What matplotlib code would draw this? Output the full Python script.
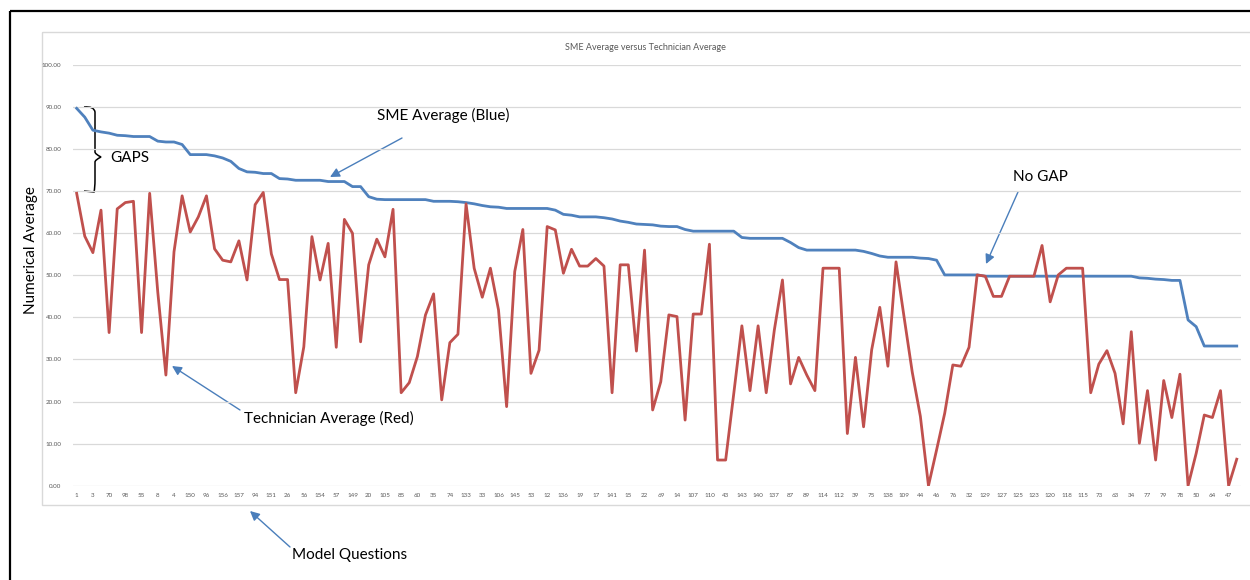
import matplotlib
matplotlib.use("Agg")
import matplotlib.pyplot as plt
from matplotlib.patches import Rectangle
from matplotlib.path import Path
from matplotlib.patches import PathPatch

plt.rcParams['font.family'] = ['Lato', 'DejaVu Sans']

# question ids shown on the category axis (every other question)
question_labels = ['1', '3', '70', '98', '55', '8', '4', '150', '96', '156', '157', '94',
                   '151', '26', '56', '154', '57', '149', '20', '105', '85', '60', '35', '74',
                   '133', '33', '106', '145', '53', '12', '136', '19', '17', '141', '15', '22',
                   '69', '14', '107', '110', '43', '143', '140', '137', '87', '89', '114', '112',
                   '39', '75', '138', '109', '44', '46', '76', '32', '129', '127', '125', '123',
                   '120', '118', '115', '73', '63', '34', '77', '79', '78', '50', '64', '47']

# SME average per question, sorted high to low
sme_avg = [89.7, 87.6, 84.5, 84.1, 83.8, 83.3, 83.2, 83.0, 83.0, 83.0,
           81.9, 81.7, 81.7, 81.1, 78.7, 78.7, 78.7, 78.4, 77.9, 77.1,
           75.4, 74.6, 74.5, 74.2, 74.2, 73.0, 72.9, 72.6, 72.6, 72.6,
           72.6, 72.3, 72.3, 72.3, 71.1, 71.1, 68.7, 68.1, 68.0, 68.0,
           68.0, 68.0, 68.0, 68.0, 67.6, 67.6, 67.6, 67.5, 67.3, 67.0,
           66.6, 66.3, 66.2, 65.9, 65.9, 65.9, 65.9, 65.9, 65.9, 65.5,
           64.5, 64.3, 63.9, 63.9, 63.9, 63.7, 63.4, 62.9, 62.6, 62.2,
           62.1, 62.0, 61.7, 61.6, 61.6, 60.9, 60.5, 60.5, 60.5, 60.5,
           60.5, 60.5, 59.0, 58.8, 58.8, 58.8, 58.8, 58.8, 57.8, 56.6,
           56.0, 56.0, 56.0, 56.0, 56.0, 56.0, 56.0, 55.7, 55.2, 54.6,
           54.3, 54.3, 54.3, 54.3, 54.1, 54.0, 53.6, 50.1, 50.1, 50.1,
           50.1, 50.1, 49.8, 49.8, 49.8, 49.8, 49.8, 49.8, 49.8, 49.8,
           49.8, 49.8, 49.8, 49.8, 49.8, 49.8, 49.8, 49.8, 49.8, 49.8,
           49.8, 49.4, 49.3, 49.1, 49.0, 48.8, 48.8, 39.4, 37.8, 33.2,
           33.2, 33.2, 33.2, 33.2]

# technician average for the same questions
tech_avg = [69.5, 59.3, 55.4, 65.5, 36.4, 65.8, 67.3, 67.6, 36.4, 69.5,
            46.0, 26.3, 55.6, 68.9, 60.3, 63.9, 68.9, 56.3, 53.6, 53.2,
            58.2, 48.9, 66.8, 69.7, 55.1, 49.0, 49.0, 22.1, 33.0, 59.2,
            48.9, 57.6, 32.9, 63.3, 60.0, 34.2, 52.5, 58.6, 54.4, 65.7,
            22.1, 24.5, 30.7, 40.6, 45.6, 20.4, 34.0, 36.0, 67.0, 51.7,
            44.8, 51.7, 41.8, 18.8, 50.9, 60.9, 26.7, 32.2, 61.6, 60.8,
            50.5, 56.2, 52.2, 52.2, 54.0, 52.2, 22.1, 52.5, 52.5, 32.0,
            56.0, 18.0, 24.7, 40.6, 40.2, 15.6, 40.8, 40.8, 57.4, 6.1,
            6.1, 21.9, 38.0, 22.6, 38.0, 22.1, 37.0, 48.9, 24.2, 30.5,
            26.3, 22.6, 51.7, 51.7, 51.7, 12.4, 30.5, 14.0, 32.3, 42.4,
            28.4, 53.2, 40.0, 27.0, 16.5, 0.0, 8.5, 17.2, 28.7, 28.4,
            32.9, 50.1, 49.8, 45.0, 45.0, 49.8, 49.8, 49.8, 49.8, 57.1,
            43.7, 50.1, 51.7, 51.7, 51.7, 22.1, 28.9, 32.1, 26.7, 14.7,
            36.6, 10.1, 22.6, 6.1, 25.0, 16.2, 26.5, 0.0, 7.7, 16.8,
            16.2, 22.6, 0.0, 6.3]

W, H = 1250, 580
fig = plt.figure(figsize=(W / 100, H / 100), dpi=100)

# overlay in pixel coords for frame, labels and callouts
over = fig.add_axes([0, 0, 1, 1], zorder=0)
over.set_xlim(0, W)
over.set_ylim(H, 0)
over.axis('off')

# chart area box
over.add_patch(Rectangle((42, 32), 1215, 473, fill=False, edgecolor='#d9d9d9', lw=1))
# black frame along top and left
over.plot([10, W], [11, 11], color='black', lw=1.6, solid_capstyle='butt')
over.plot([10, 10], [11, H], color='black', lw=1.6, solid_capstyle='butt')

ax = fig.add_axes([72.6 / W, 1 - 485.7 / H, 1168.2 / W, 420.7 / H], zorder=1)
ax.patch.set_alpha(0)
x = list(range(len(sme_avg)))
ax.plot(x, sme_avg, color='#4f81bd', lw=2, solid_joinstyle='round')
ax.plot(x, tech_avg, color='#c0504d', lw=2, solid_joinstyle='round')

ax.set_xlim(-0.5, len(sme_avg) - 0.5)
ax.set_ylim(0, 100)
ax.set_yticks(range(0, 101, 10))
ax.set_yticklabels([f"{v:.2f}" for v in range(0, 101, 10)])
ax.set_xticks(x[::2])
ax.set_xticklabels(question_labels)
ax.tick_params(axis='both', length=0, labelsize=4.5, labelcolor='#595959')
ax.tick_params(axis='x', pad=5)
ax.tick_params(axis='y', pad=8)
ax.grid(axis='y', color='#d9d9d9', lw=0.9)
ax.set_axisbelow(True)
for s in ax.spines.values():
    s.set_visible(False)

over.text(645, 48, "SME Average versus Technician Average", ha='center', va='center',
          fontsize=6.5, color='#595959')
over.text(31, 250, "Numerical Average", rotation=90, ha='center', va='center', fontsize=11)

# callouts
arrow = dict(arrowstyle='-|>', color='#4a7ebb', lw=1, mutation_scale=14, shrinkA=0, shrinkB=0)
over.text(443, 115, "SME Average (Blue)", ha='center', va='center', fontsize=11)
over.annotate("", xy=(330, 177), xytext=(402, 138), arrowprops=arrow)
over.text(329, 418, "Technician Average (Red)", ha='center', va='center', fontsize=11)
over.annotate("", xy=(172, 366), xytext=(240, 410), arrowprops=arrow)
over.text(1040, 177, "No GAP", ha='center', va='center', fontsize=11)
over.annotate("", xy=(986, 264), xytext=(1018, 192), arrowprops=arrow)
over.text(350, 555, "Model Questions", ha='center', va='center', fontsize=11)
over.annotate("", xy=(250, 511), xytext=(290, 547), arrowprops=arrow)

# curly brace marking the gap
verts = [(84, 107), (94, 106), (95, 112), (95, 120),
         (95, 152), (95, 154), (101, 157),
         (95, 160), (95, 162), (95, 180),
         (95, 188), (94, 192), (84, 191)]
codes = [Path.MOVETO, Path.CURVE3, Path.CURVE3, Path.LINETO,
         Path.LINETO, Path.CURVE3, Path.CURVE3,
         Path.CURVE3, Path.CURVE3, Path.LINETO,
         Path.CURVE3, Path.CURVE3, Path.LINETO]
over.add_patch(PathPatch(Path(verts, codes), fill=False, edgecolor='black', lw=1.1))
over.text(110, 158, "GAPS", ha='left', va='center', fontsize=11)

fig.savefig("out.png", dpi=100)
